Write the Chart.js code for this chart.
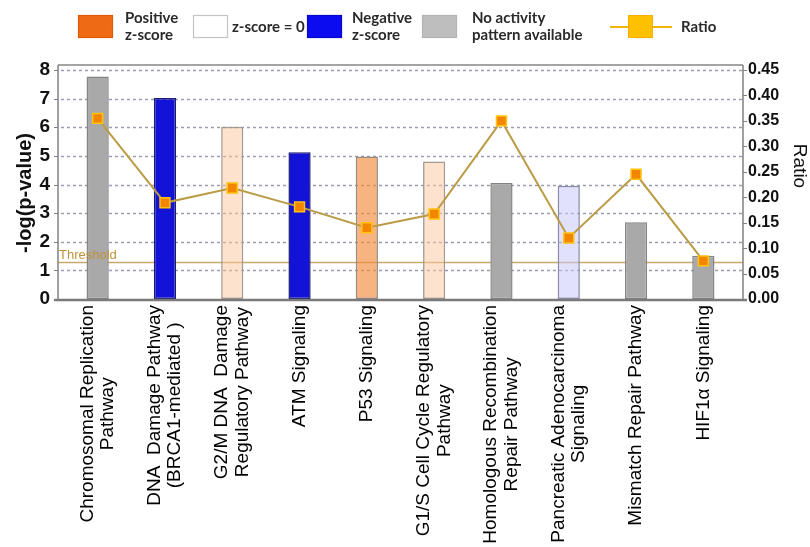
<!DOCTYPE html>
<html>
<head>
<meta charset="utf-8">
<script src="https://cdn.jsdelivr.net/npm/chart.js@4.4.1/dist/chart.umd.min.js"></script>
<style>
  html, body { margin: 0; padding: 0; background: #ffffff; }
  canvas { display: block; }
</style>
</head>
<body>
<canvas id="chart" width="810" height="547"></canvas>
<script>
// Canonical pathways (each entry = the lines of its axis label)
const categories = [
  ['Chromosomal Replication', 'Pathway'],
  ['DNA  Damage Pathway', '(BRCA1-mediated )'],
  ['G2/M DNA  Damage', 'Regulatory Pathway'],
  ['ATM Signaling'],
  ['P53 Signaling'],
  ['G1/S Cell Cycle Regulatory', 'Pathway'],
  ['Homologous Recombination', 'Repair Pathway'],
  ['Pancreatic Adenocarcinoma', 'Signaling'],
  ['Mismatch Repair Pathway'],
  ['HIF1\u03b1 Signaling']
];

// -log(p-value) per pathway (bars, left axis)
const logP = [7.77, 7.02, 6.02, 5.13, 4.98, 4.80, 4.05, 3.96, 2.68, 1.51];

// Ratio of molecules in the pathway (line, right axis)
const ratio = [0.355, 0.189, 0.218, 0.181, 0.140, 0.167, 0.350, 0.120, 0.245, 0.075];

// Predicted activity class per pathway
const activity = ['none', 'negative', 'positiveWeak', 'negative', 'positive',
                  'positiveWeak', 'none', 'negativeWeak', 'none', 'none'];

// Significance threshold on the -log(p-value) axis
const threshold = 1.3;

// Axis tick values
const logPTicks = [0, 1, 2, 3, 4, 5, 6, 7, 8];
const ratioTicks = [0, 0.05, 0.10, 0.15, 0.20, 0.25, 0.30, 0.35, 0.40, 0.45];

// Legend entries
const legendLabels = [
  ['Positive', 'z-score'],
  ['z-score = 0'],
  ['Negative', 'z-score'],
  ['No activity', 'pattern available']
];
const legendRatioLabel = 'Ratio';

// Bar colours by activity class
const activityStyle = {
  none:         { fill: '#a9a9a9',                  edge: '#858585' },
  negative:     { fill: '#1313d8',                  edge: '#1c1c78' },
  negativeWeak: { fill: 'rgba(200,200,250,0.55)',   edge: '#8a8aa8' },
  positive:     { fill: 'rgba(244,140,60,0.65)',    edge: '#9a8a80' },
  positiveWeak: { fill: 'rgba(251,200,155,0.5)',    edge: '#a39a94' }
};

// Legend swatch colours
const legendStyle = [
  { fill: '#ee6a14', edge: '#e05a08' },
  { fill: '#ffffff', edge: '#c4c4c4' },
  { fill: '#0c0cf0', edge: '#0808c8' },
  { fill: '#bebebe', edge: '#b4b4b4' }
];

const LABEL_FONT = '"Liberation Sans", Arial, sans-serif';

// Frame, dotted grid, threshold, legend, titles and rotated category labels
const decorations = {
  id: 'decorations',
  beforeDatasetsDraw(chart) {
    const { ctx, chartArea: a, scales } = chart;
    const y = scales.y;
    const L = a.left - 6, R = a.right + 6;
    ctx.save();
    // dotted horizontal grid
    ctx.strokeStyle = '#989eaf';
    ctx.lineWidth = 1.5;
    ctx.setLineDash([3, 3]);
    logPTicks.forEach(v => {
      if (v === 0) return;
      const py = Math.round(y.getPixelForValue(v)) + 0.5;
      ctx.beginPath(); ctx.moveTo(L + 3, py); ctx.lineTo(R - 1, py); ctx.stroke();
    });
    ctx.setLineDash([]);
    // threshold line
    const ty = Math.round(y.getPixelForValue(threshold)) + 0.5;
    ctx.strokeStyle = '#c6a96c';
    ctx.lineWidth = 1.4;
    ctx.beginPath(); ctx.moveTo(L, ty); ctx.lineTo(R, ty); ctx.stroke();
    ctx.restore();
  },
  afterDatasetsDraw(chart) {
    const { ctx, chartArea: a, scales } = chart;
    const y = scales.y, y1 = scales.y1;
    const L = a.left - 6, R = a.right + 6, T = a.top - 5, B = a.bottom + 1;
    ctx.save();
    // threshold caption
    ctx.font = '13px ' + LABEL_FONT;
    ctx.fillStyle = '#c0923a';
    ctx.textAlign = 'left';
    ctx.textBaseline = 'alphabetic';
    ctx.fillText('Threshold', L + 1, y.getPixelForValue(threshold) - 3);
    // frame
    ctx.strokeStyle = '#a4a4a4';
    ctx.lineWidth = 2;
    ctx.beginPath(); ctx.moveTo(L, T); ctx.lineTo(R, T); ctx.stroke();
    ctx.strokeStyle = '#808080';
    ctx.lineWidth = 1.5;
    ctx.beginPath(); ctx.moveTo(L, T); ctx.lineTo(L, B); ctx.stroke();
    ctx.beginPath(); ctx.moveTo(R, T); ctx.lineTo(R, B); ctx.stroke();
    ctx.strokeStyle = '#7a7a7a';
    ctx.lineWidth = 2.5;
    ctx.beginPath(); ctx.moveTo(L - 4, B); ctx.lineTo(R + 4, B); ctx.stroke();
    // tick marks
    ctx.lineWidth = 1;
    ctx.strokeStyle = '#808080';
    logPTicks.forEach(v => {
      const py = Math.round(y.getPixelForValue(v)) + 0.5;
      ctx.beginPath(); ctx.moveTo(L - 4, py); ctx.lineTo(L, py); ctx.stroke();
    });
    ratioTicks.forEach(v => {
      const py = Math.round(y1.getPixelForValue(v)) + 0.5;
      ctx.beginPath(); ctx.moveTo(R, py); ctx.lineTo(R + 4, py); ctx.stroke();
    });
    ctx.restore();
  },
  afterDraw(chart) {
    const { ctx, chartArea: a, scales } = chart;
    const x = scales.x;
    ctx.save();

    // category labels, rotated to read bottom-to-top, lines centred
    ctx.font = '19px ' + LABEL_FONT;
    ctx.fillStyle = '#000000';
    ctx.textAlign = 'center';
    ctx.textBaseline = 'middle';
    const lineGap = 20.5;
    categories.forEach((lines, i) => {
      const cx = x.getPixelForValue(i);
      const longest = Math.max(...lines.map(s => ctx.measureText(s).width));
      const cy = a.bottom + 6 + longest / 2;
      lines.forEach((s, j) => {
        const lx = cx + (j - (lines.length - 1) / 2) * lineGap;
        ctx.save();
        ctx.translate(lx, cy);
        ctx.rotate(-Math.PI / 2);
        ctx.fillText(s, 0, 0);
        ctx.restore();
      });
    });

    // axis titles
    ctx.fillStyle = '#111111';
    ctx.font = 'bold 20px ' + LABEL_FONT;
    ctx.save();
    ctx.translate(25, 193);
    ctx.rotate(-Math.PI / 2);
    ctx.fillText('-log(p-value)', 0, 0);
    ctx.restore();
    ctx.font = '19px ' + LABEL_FONT;
    ctx.save();
    ctx.translate(799, 166);
    ctx.rotate(Math.PI / 2);
    ctx.fillText('Ratio', 0, 0);
    ctx.restore();

    // legend
    const swatchX = [78, 193, 307, 422];
    const textX = [125, 232, 352, 472];
    ctx.font = 'bold 15px Lato, "Open Sans", sans-serif';
    ctx.textAlign = 'left';
    ctx.textBaseline = 'alphabetic';
    legendLabels.forEach((lines, i) => {
      const st = legendStyle[i];
      ctx.fillStyle = st.fill;
      ctx.fillRect(swatchX[i], 15, 35, 23);
      ctx.strokeStyle = st.edge;
      ctx.lineWidth = 1.2;
      ctx.strokeRect(swatchX[i] + 0.5, 15.5, 34, 22);
      ctx.fillStyle = '#2a2a2a';
      if (lines.length === 1) {
        ctx.fillText(lines[0], textX[i], 32);
      } else {
        ctx.fillText(lines[0], textX[i], 23);
        ctx.fillText(lines[1], textX[i], 40);
      }
    });
    // ratio legend: line with square marker
    ctx.strokeStyle = '#f2b400';
    ctx.lineWidth = 2;
    ctx.beginPath(); ctx.moveTo(610, 27); ctx.lineTo(672, 27); ctx.stroke();
    ctx.fillStyle = '#ffc000';
    ctx.fillRect(628, 15, 25, 23);
    ctx.strokeStyle = '#f5b000';
    ctx.lineWidth = 1;
    ctx.strokeRect(628.5, 15.5, 24, 22);
    ctx.fillStyle = '#2a2a2a';
    ctx.fillText(legendRatioLabel, 681, 32);

    ctx.restore();
  }
};

new Chart(document.getElementById('chart'), {
  data: {
    labels: categories,
    datasets: [
      {
        type: 'line',
        label: 'Ratio',
        data: ratio,
        yAxisID: 'y1',
        order: 0,
        borderColor: '#bb9c46',
        borderWidth: 2,
        tension: 0,
        pointStyle: 'rect',
        pointRadius: 7,
        pointBackgroundColor: '#f28600',
        pointBorderColor: '#ffc20e',
        pointBorderWidth: 1.5
      },
      {
        type: 'bar',
        label: '-log(p-value)',
        data: logP,
        yAxisID: 'y',
        order: 1,
        backgroundColor: activity.map(k => activityStyle[k].fill),
        borderColor: activity.map(k => activityStyle[k].edge),
        borderWidth: 1.5,
        borderSkipped: false,
        barPercentage: 0.33,
        categoryPercentage: 1
      }
    ]
  },
  options: {
    responsive: false,
    animation: false,
    devicePixelRatio: 1,
    layout: { padding: { top: 70, left: 0, right: 0, bottom: 0 } },
    plugins: { legend: { display: false }, tooltip: { enabled: false } },
    scales: {
      x: {
        type: 'category',
        grid: { display: false, drawTicks: false },
        border: { display: false },
        ticks: { display: false },
        afterFit(scale) { scale.height = 248; }
      },
      y: {
        position: 'left',
        min: 0,
        max: 8,
        grid: { display: false, drawTicks: false },
        border: { display: false },
        afterBuildTicks(scale) { scale.ticks = logPTicks.map(v => ({ value: v })); },
        ticks: {
          padding: 14,
          color: '#111111',
          font: { family: LABEL_FONT, size: 19, weight: 'bold' },
          callback: v => String(v)
        },
        afterFit(scale) { scale.width = 64; }
      },
      y1: {
        position: 'right',
        min: 0,
        max: 0.45,
        grid: { display: false, drawTicks: false },
        border: { display: false },
        afterBuildTicks(scale) { scale.ticks = ratioTicks.map(v => ({ value: v })); },
        ticks: {
          padding: 11,
          color: '#111111',
          font: { family: LABEL_FONT, size: 16, weight: 'bold' },
          callback: v => Number(v).toFixed(2)
        },
        afterFit(scale) { scale.width = 73; }
      }
    }
  },
  plugins: [decorations]
});
</script>
</body>
</html>
